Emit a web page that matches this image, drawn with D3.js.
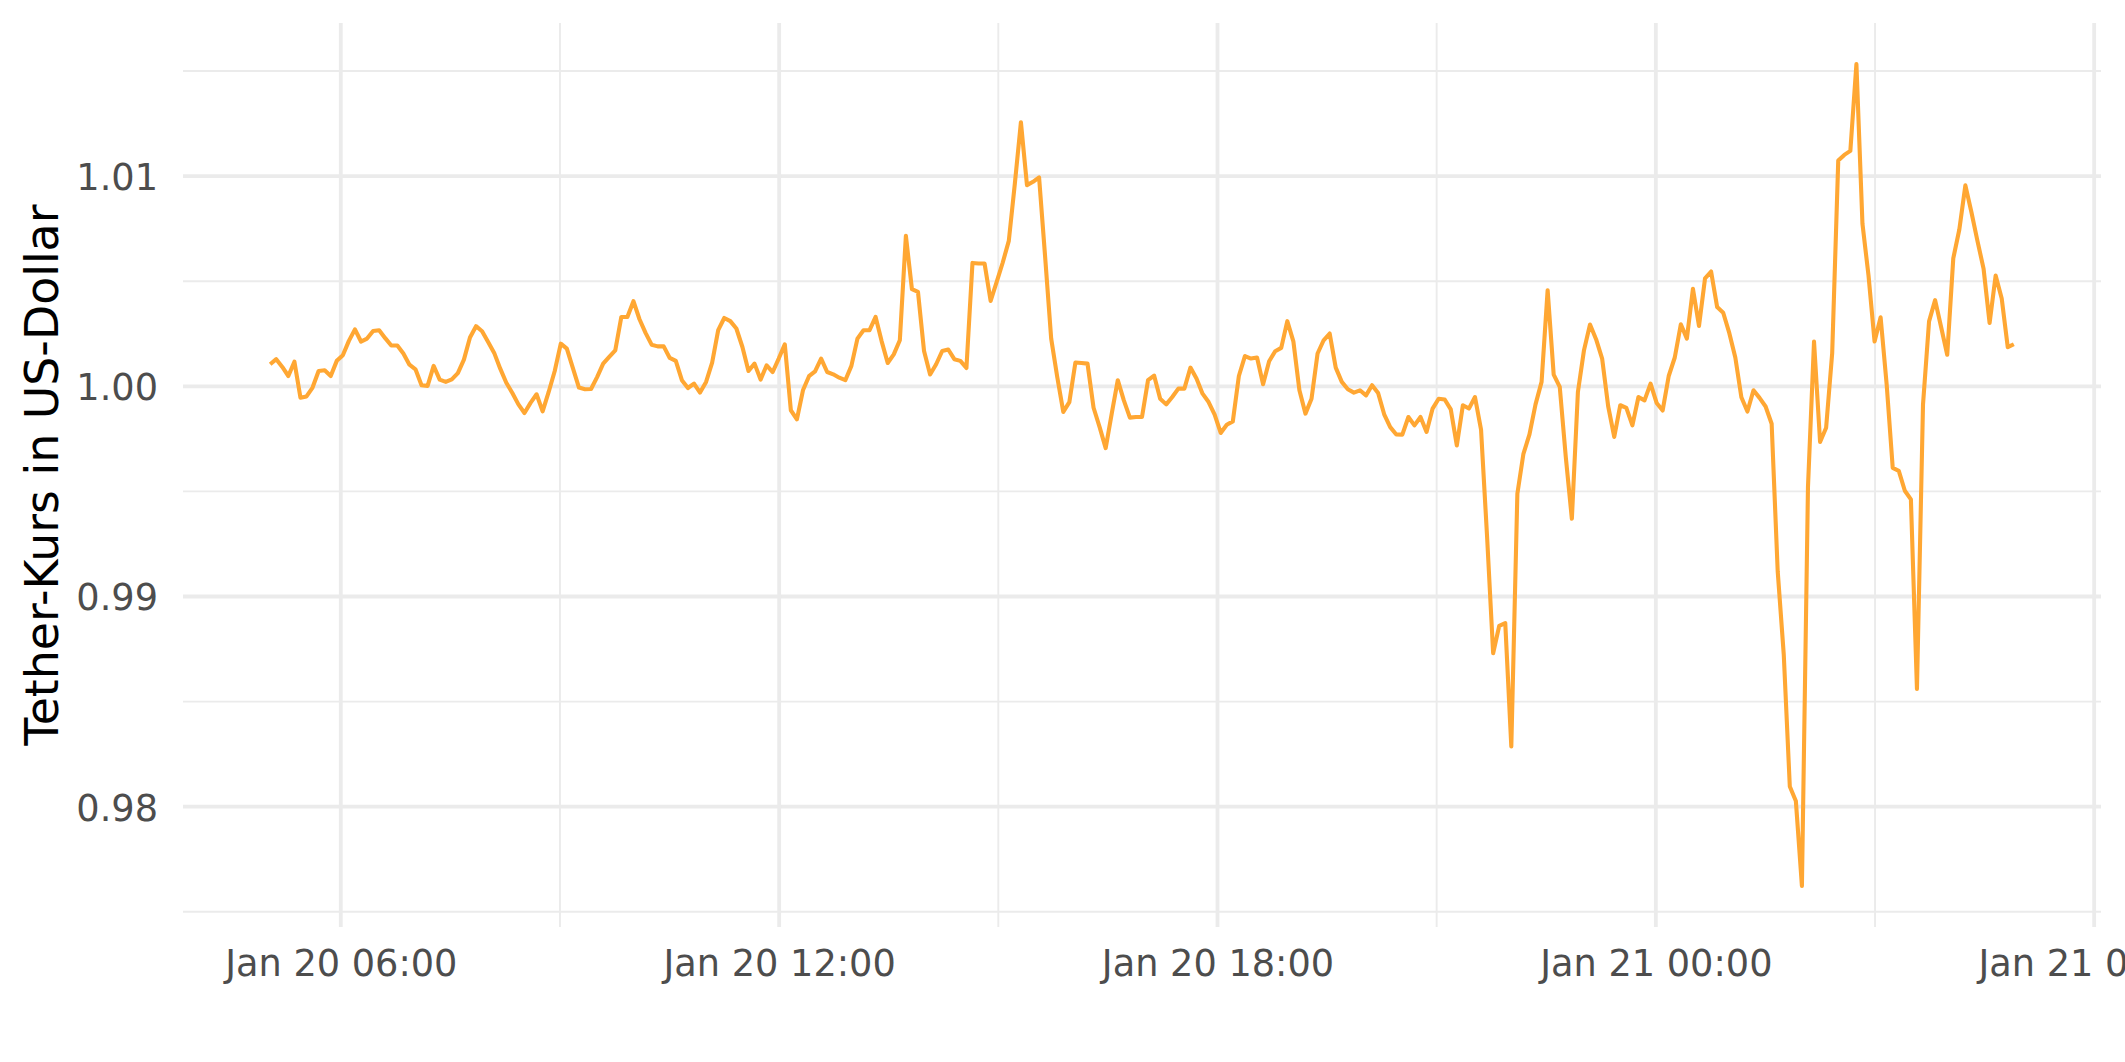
<!DOCTYPE html>
<html>
<head>
<meta charset="utf-8">
<script src="https://cdn.jsdelivr.net/npm/d3@7"></script>
<style>
html, body { margin: 0; padding: 0; background: #ffffff; overflow: hidden; }
svg { display: block; }
</style>
</head>
<body>
<svg id="chart" width="2125" height="1062"></svg>
<script>
// ---- data ----
const startTime = "2018-01-20T05:02:00";
const endTime   = "2018-01-21T04:54:00";

const prices = [
  1.00105, 1.00129, 1.00092, 1.00049, 1.00117, 0.99946, 0.99952, 0.99994, 1.00073, 1.00076,
  1.00049, 1.00121, 1.00148, 1.00216, 1.00271, 1.00213, 1.00227, 1.00263, 1.00267, 1.00229,
  1.00194, 1.00194, 1.00156, 1.00103, 1.00081, 1.00005, 1.00002, 1.00097, 1.00032, 1.00021,
  1.00033, 1.00063, 1.00127, 1.00232, 1.00286, 1.00262, 1.00211, 1.00159, 1.00084, 1.00017,
  0.99968, 0.99914, 0.99873, 0.99921, 0.99962, 0.99881, 0.99973, 1.00073, 1.00203, 1.00179,
  1.00087, 0.99994, 0.99986, 0.99987, 1.00044, 1.00108, 1.00140, 1.00171, 1.00330, 1.00330,
  1.00405, 1.00319, 1.00254, 1.00198, 1.00190, 1.00190, 1.00135, 1.00121, 1.00029, 0.99992,
  1.00013, 0.99970, 1.00021, 1.00113, 1.00267, 1.00325, 1.00310, 1.00275, 1.00187, 1.00073,
  1.00108,
  1.00032, 1.00100, 1.00068, 1.00132, 1.00200, 0.99886, 0.99843, 0.99981, 1.00048, 1.00071,
  1.00132, 1.00068, 1.00057, 1.00041, 1.00029, 1.00097, 1.00227, 1.00267, 1.00267, 1.00330,
  1.00214, 1.00111, 1.00152, 1.00219, 1.00716, 1.00462, 1.00449, 1.00168, 1.00056, 1.00105,
  1.00168, 1.00175, 1.00129, 1.00121, 1.00087, 1.00587, 1.00584, 1.00584, 1.00406, 1.00497,
  1.00589, 1.00692, 1.00965, 1.01256, 1.00957, 1.00973, 1.00994, 1.00616, 1.00227, 1.00044,
  0.99878, 0.99925, 1.00113, 1.00111, 1.00108, 0.99898, 0.99806, 0.99706, 0.99870, 1.00029,
  0.99933, 0.99851, 0.99854, 0.99854, 1.00029, 1.00051, 0.99941, 0.99914, 0.99949, 0.99989,
  0.99989, 1.00089, 1.00037, 0.99965,
  0.99925, 0.99865, 0.99778, 0.99817, 0.99833, 1.00049, 1.00144, 1.00132, 1.00137, 1.00010,
  1.00119, 1.00167, 1.00183, 1.00310, 1.00214, 0.99981, 0.99870, 0.99941, 1.00156, 1.00219,
  1.00251, 1.00089, 1.00021, 0.99986, 0.99970, 0.99981, 0.99957, 1.00005, 0.99968, 0.99867,
  0.99806, 0.99771, 0.99770, 0.99854, 0.99814, 0.99854, 0.99783, 0.99894, 0.99941, 0.99937,
  0.99890, 0.99719, 0.99910, 0.99894, 0.99949, 0.99794, 0.99283, 0.98730, 0.98860, 0.98873,
  0.98287, 0.99489, 0.99679, 0.99771, 0.99914, 1.00021, 1.00457, 1.00056, 0.99997, 0.99663,
  0.99370, 0.99973, 1.00171, 1.00294, 1.00224, 1.00132, 0.99905, 0.99759, 0.99910, 0.99897,
  0.99814, 0.99949, 0.99933, 1.00013,
  0.99921, 0.99885, 1.00049, 1.00137, 1.00295, 1.00227, 1.00464, 1.00287, 1.00514, 1.00546,
  1.00377, 1.00350, 1.00254, 1.00137, 0.99948, 0.99880, 0.99981, 0.99945, 0.99904, 0.99822,
  0.99120, 0.98724, 0.98096, 0.98027, 0.97623, 0.99520, 1.00213, 0.99735, 0.99803, 1.00158,
  1.01074, 1.01101, 1.01120, 1.01533, 1.00773, 1.00527, 1.00213, 1.00328, 1.00008, 0.99612,
  0.99598, 0.99503, 0.99462, 0.98560, 0.99913, 1.00309, 1.00410, 1.00281, 1.00150, 1.00609,
  1.00746, 1.00956, 1.00828, 1.00691, 1.00560, 1.00301, 1.00527, 1.00418, 1.00186, 1.00200
];

const xMajorTicks = ["2018-01-20T06:00:00", "2018-01-20T12:00:00", "2018-01-20T18:00:00",
                     "2018-01-21T00:00:00", "2018-01-21T06:00:00"];
const xMinorTicks = ["2018-01-20T03:00:00", "2018-01-20T09:00:00", "2018-01-20T15:00:00",
                     "2018-01-20T21:00:00", "2018-01-21T03:00:00"];
const yMajorTicks = [0.98, 0.99, 1.00, 1.01];
const yMinorTicks = [0.975, 0.985, 0.995, 1.005, 1.015];
const yTitle = "Tether-Kurs in US-Dollar";

// ---- layout ----
const W = 2125, H = 1062;
const panel = { left: 183, right: 2101, top: 23, bottom: 927 };
const lineColor = "#ffa733";
const gridColor = "#ebebeb";
const font = "'DejaVu Sans', sans-serif";

const parse = d3.timeParse("%Y-%m-%dT%H:%M:%S");
const t0 = parse(startTime), t1 = parse(endTime);
const n = prices.length;
const stepMs = (t1 - t0) / (n - 1);
const data = prices.map((v, i) => ({ t: new Date(+t0 + i * stepMs), v }));

const span = t1 - t0;
const x = d3.scaleTime()
  .domain([new Date(+t0 - 0.05 * span), new Date(+t1 + 0.05 * span)])
  .range([panel.left, panel.right]);

const [vmin, vmax] = d3.extent(prices);
const vr = vmax - vmin;
const y = d3.scaleLinear()
  .domain([vmin - 0.05 * vr, vmax + 0.05 * vr])
  .range([panel.bottom, panel.top]);

const svg = d3.select("#chart");
svg.append("rect").attr("width", W).attr("height", H).attr("fill", "#fff");

const inX = d => { const p = x(d); return p >= panel.left && p <= panel.right; };
const inY = d => { const p = y(d); return p >= panel.top && p <= panel.bottom; };

const grid = svg.append("g");
// minor grid
grid.selectAll(".ymin").data(yMinorTicks.filter(inY)).join("line")
  .attr("x1", panel.left).attr("x2", panel.right)
  .attr("y1", d => y(d)).attr("y2", d => y(d))
  .attr("stroke", gridColor).attr("stroke-width", 1.9);
grid.selectAll(".xmin").data(xMinorTicks.map(parse).filter(inX)).join("line")
  .attr("y1", panel.top).attr("y2", panel.bottom)
  .attr("x1", d => x(d)).attr("x2", d => x(d))
  .attr("stroke", gridColor).attr("stroke-width", 1.9);
// major grid
grid.selectAll(".ymaj").data(yMajorTicks).join("line")
  .attr("x1", panel.left).attr("x2", panel.right)
  .attr("y1", d => y(d)).attr("y2", d => y(d))
  .attr("stroke", gridColor).attr("stroke-width", 3.8);
grid.selectAll(".xmaj").data(xMajorTicks.map(parse).filter(inX)).join("line")
  .attr("y1", panel.top).attr("y2", panel.bottom)
  .attr("x1", d => x(d)).attr("x2", d => x(d))
  .attr("stroke", gridColor).attr("stroke-width", 3.8);

// line
const line = d3.line().x(d => x(d.t)).y(d => y(d.v));
svg.append("path").datum(data)
  .attr("d", line)
  .attr("fill", "none")
  .attr("stroke", lineColor)
  .attr("stroke-width", 4.1)
  .attr("stroke-linejoin", "round")
  .attr("stroke-linecap", "butt");

// x axis
const xAxis = d3.axisBottom(x)
  .tickValues(xMajorTicks.map(parse))
  .tickFormat(d3.timeFormat("%b %d %H:%M"))
  .tickSize(0).tickPadding(22.5);
const gx = svg.append("g").attr("transform", `translate(0,${panel.bottom})`).call(xAxis);
gx.select(".domain").remove();
gx.selectAll("text").attr("font-family", font).attr("font-size", 36.7).attr("fill", "#4d4d4d");

// y axis
const yAxis = d3.axisLeft(y)
  .tickValues(yMajorTicks)
  .tickFormat(d3.format(".2f"))
  .tickSize(0).tickPadding(25);
const gy = svg.append("g").attr("transform", `translate(${panel.left},0)`).call(yAxis);
gy.select(".domain").remove();
gy.selectAll("text").attr("font-family", font).attr("font-size", 36.7)
  .attr("fill", "#4d4d4d").attr("dy", "0.365em");

// y title
svg.append("text")
  .attr("transform", `translate(58,${(panel.top + panel.bottom) / 2}) rotate(-90)`)
  .attr("text-anchor", "middle")
  .attr("font-family", font).attr("font-size", 45.8).attr("fill", "#000")
  .text(yTitle);
</script>
</body>
</html>
